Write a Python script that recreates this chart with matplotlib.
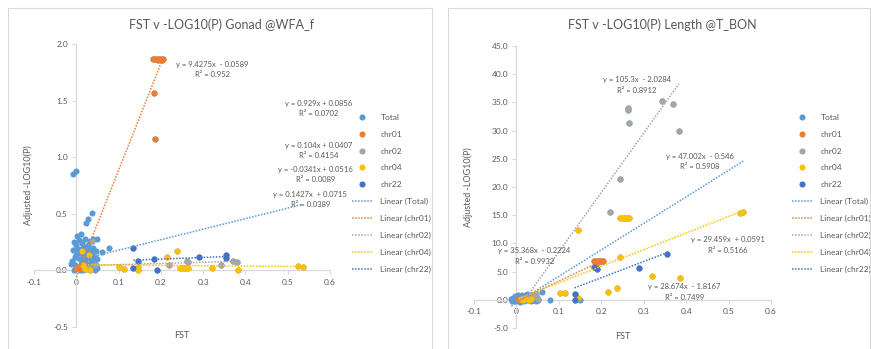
import matplotlib
matplotlib.use("Agg")
import matplotlib.pyplot as plt
from matplotlib.lines import Line2D
from matplotlib.patches import Rectangle
import numpy as np

plt.rcParams['font.family'] = ['Lato', 'DejaVu Sans']

# Series names and Excel default colours
series_names = ['Total', 'chr01', 'chr02', 'chr04', 'chr22']
series_colors = ['#5B9BD5', '#ED7D31', '#A5A5A5', '#FFC000', '#4472C4']

# ---------------- Gonad @WFA_f (left) ----------------
g_cluster_x = [-0.008, 0.0, 0.038, 0.027, 0.022, 0.05, 0.06, 0.078,
               -0.01, -0.008, -0.005, -0.004, -0.002, 0.0, 0.002, 0.003, 0.005, 0.006,
               0.008, 0.01, 0.011, 0.012, 0.014, 0.015, 0.017, 0.018, 0.02, 0.021, 0.023,
               0.025, 0.026, 0.028, 0.03, 0.031, 0.033, 0.034, 0.036, 0.038, 0.04, 0.042,
               0.044, 0.045, 0.047, 0.048, 0.05, 0.04, 0.008, -0.006, 0.015, 0.0, -0.012,
               0.004, 0.019, 0.032, 0.046]
g_cluster_y = [0.85, 0.88, 0.51, 0.45, 0.42, 0.28, 0.16, 0.20,
               0.08, 0.18, 0.25, 0.12, 0.05, 0.22, 0.30, 0.15, 0.02, 0.27,
               0.10, 0.19, 0.06, 0.32, 0.24, 0.13, 0.03, 0.21, 0.09, 0.28, 0.16,
               0.01, 0.12, 0.22, 0.06, 0.18, 0.26, 0.10, 0.03, 0.15, 0.20, 0.08,
               0.00, 0.12, 0.05, 0.10, 0.02, 0.28, 0.00, 0.00, 0.00, 0.14, 0.06,
               0.19, 0.07, 0.11, 0.17]
g_chr01_x = [0.0, 0.003, 0.006, 0.008, 0.01, 0.182, 0.187, 0.19, 0.193, 0.196, 0.2, 0.203, 0.206, 0.184, 0.187]
g_chr01_y = [0.02, 0.03, 0.01, 0.02, 0.03, 1.87, 1.87, 1.87, 1.86, 1.87, 1.87, 1.86, 1.87, 1.57, 1.16]
g_chr02_x = [0.03, 0.037, 0.045, 0.22, 0.262, 0.265, 0.343, 0.37, 0.38]
g_chr02_y = [0.02, 0.26, 0.05, 0.05, 0.08, 0.075, 0.05, 0.08, 0.07]
g_chr04_x = [0.013, 0.03, 0.015, 0.02, 0.033, 0.1, 0.113, 0.145, 0.145, 0.215, 0.237,
             0.245, 0.25, 0.255, 0.26, 0.265, 0.32, 0.383, 0.525, 0.535]
g_chr04_y = [0.17, 0.14, 0.05, 0.01, 0.0, 0.03, 0.01, 0.0, 0.03, 0.12, 0.17,
             0.02, 0.02, 0.02, 0.02, 0.02, 0.02, 0.0, 0.035, 0.03]
g_chr22_x = [0.135, 0.135, 0.145, 0.183, 0.19, 0.29, 0.355, 0.355]
g_chr22_y = [0.20, 0.02, 0.08, 0.10, 0.0, 0.12, 0.14, 0.11]

# trendline equations (Total, chr01, chr02, chr04, chr22)
g_slope = [0.929, 9.4275, 0.104, -0.0341, 0.1427]
g_icept = [0.0856, -0.0589, 0.0407, 0.0516, 0.0715]
g_eq = ['y = 0.929x + 0.0856', 'y = 9.4275x  - 0.0589', 'y = 0.104x + 0.0407',
        'y = -0.0341x + 0.0516', 'y = 0.1427x  + 0.0715']
g_r2 = ['0.0702', '0.952', '0.4154', '0.0089', '0.0389']
g_eq_pos = [(0.572, 1.431), (0.322, 1.776), (0.574, 1.06), (0.565, 0.848), (0.553, 0.627)]

# ---------------- Length @T_BON (right) ----------------
l_cluster_x = [-0.012, -0.01, -0.008, -0.005, -0.003, 0.0, 0.002, 0.004, 0.006, 0.008,
               0.01, 0.012, 0.014, 0.016, 0.018, 0.02, 0.022, 0.024, 0.026, 0.028,
               0.03, 0.032, 0.034, 0.036, 0.038, 0.04, 0.042, 0.045, 0.048, 0.05,
               0.06, 0.078, 0.15]
l_cluster_y = [0.1, -0.3, 0.4, 0.0, 0.7, -0.2, 0.3, 0.9, 0.1, -0.4,
               0.5, 0.0, 0.8, 0.2, -0.3, 0.6, 0.1, 1.0, -0.1, 0.4,
               0.0, 0.7, -0.3, 0.2, 0.9, 0.0, 0.5, -0.2, 0.3, 0.0,
               1.4, 0.0, -0.1]
l_chr01_x = [0.003, 0.006, 0.01, 0.182, 0.186, 0.19, 0.194, 0.198, 0.202, 0.205, 0.188]
l_chr01_y = [0.0, 0.1, -0.1, 6.9, 6.9, 6.8, 6.9, 6.9, 6.8, 6.9, 6.4]
l_chr02_x = [0.03, 0.035, 0.04, 0.045, 0.05, 0.22, 0.245, 0.262, 0.264, 0.266, 0.344, 0.37, 0.383]
l_chr02_y = [0.3, 0.8, 0.5, 1.0, 0.2, 15.6, 21.4, 33.7, 34.0, 31.3, 35.2, 34.7, 29.9]
l_chr04_x = [0.01, 0.015, 0.02, 0.03, 0.035, 0.103, 0.115, 0.146, 0.146, 0.217, 0.238, 0.245,
             0.245, 0.25, 0.255, 0.26, 0.265, 0.32, 0.385, 0.528, 0.535]
l_chr04_y = [0.1, 0.0, 0.3, 0.0, 0.2, 1.2, 1.25, 12.4, 0.35, 1.4, 2.1, 7.6,
             14.5, 14.5, 14.5, 14.5, 14.5, 4.2, 3.9, 15.4, 15.6]
l_chr22_x = [0.137, 0.137, 0.184, 0.19, 0.29, 0.356]
l_chr22_y = [1.1, 0.0, 5.9, 5.4, 5.6, 8.2]

l_slope = [47.002, 35.368, 105.3, 29.459, 28.674]
l_icept = [-0.546, -0.2224, -2.0284, 0.0591, -1.8167]
l_eq = ['y = 47.002x  - 0.546', 'y = 35.368x  - 0.2224', 'y = 105.3x  - 2.0284',
        'y = 29.459x  + 0.0591', 'y = 28.674x  - 1.8167']
l_r2 = ['0.5908', '0.9932', '0.8912', '0.5166', '0.7499']
l_eq_pos = [(0.432, 24.5), (0.042, 7.8), (0.283, 38.1), (0.498, 9.75), (0.396, 1.42)]

grey_text = '#595959'
axis_col = '#d9d9d9'
dot = (0, (1, 1))


def build_series(cx, cy, chrs):
    # Total holds every SNP; chromosome series are subsets drawn on top
    tx = list(cx)
    ty = list(cy)
    for x, y in chrs:
        tx += x
        ty += y
    return [(tx, ty)] + list(chrs)


def draw_chart(ax, series, slopes, icepts, eqs, r2s, eq_pos, ylim, yticks, title, title_x):
    for (x, y), col in zip(series, series_colors):
        ax.plot(x, y, 'o', color=col, markersize=4.4, markeredgewidth=0, zorder=3)
    for (x, y), col, m, b in zip(series, series_colors, slopes, icepts):
        xs = np.array([min(x), max(x)])
        ax.plot(xs, m * xs + b, ls=dot, lw=1.1, color=col, zorder=4)
    for eq, r2, (px, py) in zip(eqs, r2s, eq_pos):
        ax.text(px, py, f'{eq}\nR² = {r2}', ha='center', va='center', multialignment='center',
                fontsize=5.5, color=grey_text, linespacing=1.6, zorder=5)

    ax.set_xlim(-0.1, 0.6)
    ax.set_ylim(*ylim)
    ax.set_xticks([-0.1, 0, 0.1, 0.2, 0.3, 0.4, 0.5, 0.6])
    ax.set_xticklabels(['-0.1', '0', '0.1', '0.2', '0.3', '0.4', '0.5', '0.6'])
    ax.set_yticks(yticks)
    ax.set_yticklabels([f'{v:.1f}' for v in yticks])
    for s in ['top', 'right']:
        ax.spines[s].set_visible(False)
    ax.spines['left'].set_position(('data', 0))
    ax.spines['bottom'].set_position(('data', 0))
    for s in ['left', 'bottom']:
        ax.spines[s].set_color(axis_col)
        ax.spines[s].set_linewidth(0.9)
    ax.tick_params(length=3, width=0.8, color=axis_col, labelcolor=grey_text, labelsize=6, pad=3)
    ax.patch.set_alpha(0)

    ax.text(0.5, -0.03, 'FST', transform=ax.transAxes, ha='center', va='center',
            fontsize=6.5, color=grey_text)
    ax.text(-0.02, 0.5, 'Adjusted -LOG10(P)', transform=ax.transAxes, ha='center', va='center',
            rotation=90, fontsize=6.5, color=grey_text)
    fig.text(title_x, 1 - 25 / 349, title, ha='center', va='center', fontsize=9, color=grey_text)


def add_legend(ax, anchor_x):
    handles = [Line2D([], [], ls='none', marker='o', markersize=4.4, markeredgewidth=0, color=c)
               for c in series_colors]
    handles += [Line2D([], [], ls=dot, lw=1.1, color=c) for c in series_colors]
    labels = series_names + [f'Linear ({n})' for n in series_names]
    ax.legend(handles, labels, loc='upper left', bbox_to_anchor=(anchor_x, 1 - 114 / 349),
              bbox_transform=fig.transFigure, frameon=False, fontsize=6, labelcolor=grey_text,
              handlelength=2.4, handletextpad=1.0, labelspacing=1.17, borderpad=0, borderaxespad=0)


fig = plt.figure(figsize=(8.71, 3.49), dpi=100)
fig.patch.set_facecolor('white')

# chart-area frames
fig.patches.append(Rectangle((8 / 871, -0.1), 424 / 871, 1.1 - 8 / 349, transform=fig.transFigure,
                             fill=False, ec=axis_col, lw=0.8))
fig.patches.append(Rectangle((448 / 871, -0.1), 421.5 / 871, 1.1 - 8 / 349, transform=fig.transFigure,
                             fill=False, ec=axis_col, lw=0.8))

ax1 = fig.add_axes([34 / 871, 1 - 327 / 349, 296 / 871, 283 / 349])
ax2 = fig.add_axes([474 / 871, 1 - 328 / 349, 297 / 871, 282 / 349])

gonad = build_series(g_cluster_x, g_cluster_y,
                     [(g_chr01_x, g_chr01_y), (g_chr02_x, g_chr02_y),
                      (g_chr04_x, g_chr04_y), (g_chr22_x, g_chr22_y)])
length = build_series(l_cluster_x, l_cluster_y,
                      [(l_chr01_x, l_chr01_y), (l_chr02_x, l_chr02_y),
                       (l_chr04_x, l_chr04_y), (l_chr22_x, l_chr22_y)])

draw_chart(ax1, gonad, g_slope, g_icept, g_eq, g_r2, g_eq_pos, (-0.5, 2.0),
           [-0.5, 0.0, 0.5, 1.0, 1.5, 2.0], 'FST v -LOG10(P) Gonad @WFA_f', 222 / 871)
draw_chart(ax2, length, l_slope, l_icept, l_eq, l_r2, l_eq_pos, (-5, 45),
           [-5, 0, 5, 10, 15, 20, 25, 30, 35, 40, 45], 'FST v -LOG10(P) Length @T_BON', 662 / 871)

add_legend(ax1, 352 / 871)
add_legend(ax2, 792 / 871)

fig.savefig('out.png', dpi=100)
